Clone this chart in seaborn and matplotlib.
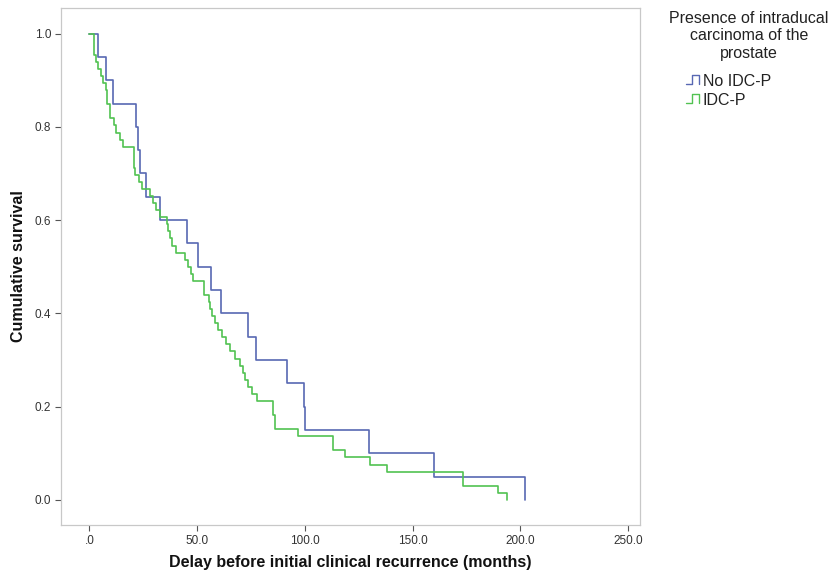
import numpy as np
import pandas as pd
import matplotlib
matplotlib.use("Agg")
import matplotlib.pyplot as plt
import seaborn as sns
from matplotlib.legend_handler import HandlerBase
from matplotlib.lines import Line2D

# ---- data (event times in months) ----
groups = ["No IDC-P", "IDC-P"]
no_idc_times = [4.2, 7.8, 10.9, 21.7, 22.5, 23.6, 26.4, 32.9, 45.5, 50.3,
                56.4, 61.0, 73.5, 77.4, 91.6, 99.4, 100.2, 130.0, 160.0, 202.0]
idc_times = [1.9, 1.9, 1.9, 3.0, 4.2, 5.2, 6.5, 7.7, 8.1, 8.1,
             9.7, 9.7, 11.2, 12.3, 14.3, 15.8, 20.5, 20.5, 20.5, 21.3,
             22.8, 24.6, 27.9, 29.7, 31.0, 32.9, 36.0, 36.6, 37.2, 38.3,
             40.3, 44.4, 45.8, 47.2, 48.3, 53.3, 53.3, 55.3, 56.1, 57.0,
             58.1, 59.9, 61.5, 63.5, 65.3, 67.7, 70.0, 71.4, 72.3, 73.8,
             75.4, 78.0, 85.2, 85.2, 86.2, 86.2, 96.6, 113.0, 113.0, 118.7,
             130.3, 138.0, 173.6, 173.6, 189.7, 193.9]
colors = ["#5868b3", "#52c252"]
xticks = [0, 50, 100, 150, 200, 250]
xtick_labels = [".0", "50.0", "100.0", "150.0", "200.0", "250.0"]
yticks = [0.0, 0.2, 0.4, 0.6, 0.8, 1.0]
ytick_labels = ["0.0", "0.2", "0.4", "0.6", "0.8", "1.0"]
legend_title = "Presence of intraducal\ncarcinoma of the\nprostate"


def km_table(times, label):
    t = np.sort(np.asarray(times, dtype=float))
    n = len(t)
    uniq, counts = np.unique(t, return_counts=True)
    surv = 1.0 - np.cumsum(counts) / n
    xs = np.concatenate([[0.0], uniq])
    ys = np.concatenate([[1.0], surv])
    return pd.DataFrame({"time": xs, "surv": ys, "group": label})


df = pd.concat([km_table(no_idc_times, groups[0]),
                km_table(idc_times, groups[1])], ignore_index=True)

sns.set_style("white")
plt.rcParams["font.family"] = ["Liberation Sans", "DejaVu Sans"]

fig = plt.figure(figsize=(8.35, 5.75), dpi=100)
W, H = 835, 575
left, right, top, bottom = 61, 640, 8, 525
ax = fig.add_axes([left / W, 1 - bottom / H, (right - left) / W, (bottom - top) / H])

sns.lineplot(data=df, x="time", y="surv", hue="group", hue_order=groups,
             palette=colors, estimator=None, sort=False,
             drawstyle="steps-post", linewidth=1.2, legend=False, ax=ax)

ax.set_xlim(-13.2, 255.6)
ax.set_ylim(-0.054, 1.055)
ax.set_xticks(xticks)
ax.set_xticklabels(xtick_labels)
ax.set_yticks(yticks)
ax.set_yticklabels(ytick_labels)
ax.tick_params(axis="both", direction="out", length=4, width=0.8,
               color="#555555", labelcolor="#333333", labelsize=8.5,
               bottom=True, left=True, pad=3)
for sp in ax.spines.values():
    sp.set_color("#c8c8c8")
    sp.set_linewidth(0.9)

ax.set_xlabel("Delay before initial clinical recurrence (months)",
              fontsize=11.5, fontweight="bold", color="#111111", labelpad=6)
ax.set_ylabel("Cumulative survival", fontsize=11.5, fontweight="bold",
              color="#111111", labelpad=6)


class StepHandler(HandlerBase):
    def create_artists(self, legend, orig_handle, xdescent, ydescent,
                       width, height, fontsize, trans):
        x0, y0 = -xdescent, -ydescent
        xs = [x0, x0 + 0.35 * width, x0 + 0.35 * width, x0 + 0.8 * width, x0 + 0.8 * width]
        ys = [y0 + 0.2 * height, y0 + 0.2 * height, y0 + 0.95 * height,
              y0 + 0.95 * height, y0 + 0.2 * height]
        ln = Line2D(xs, ys, color=orig_handle.get_color(), lw=1.0)
        ln.set_transform(trans)
        return [ln]


fig.text(749 / W, 1 - 11 / H, legend_title, ha="center", va="top",
         multialignment="center", fontsize=11.5, color="#222222",
         linespacing=1.2)
handles = [Line2D([], [], color=c) for c in colors]
fig.legend(handles, groups, loc="upper left",
           bbox_to_anchor=(686 / W, 1 - 74 / H), frameon=False,
           fontsize=11.5, handler_map={Line2D: StepHandler()},
           handlelength=1.0, handletextpad=0.05, labelspacing=0.25,
           borderpad=0, borderaxespad=0, labelcolor="#222222")

fig.savefig("out.png", dpi=100)
